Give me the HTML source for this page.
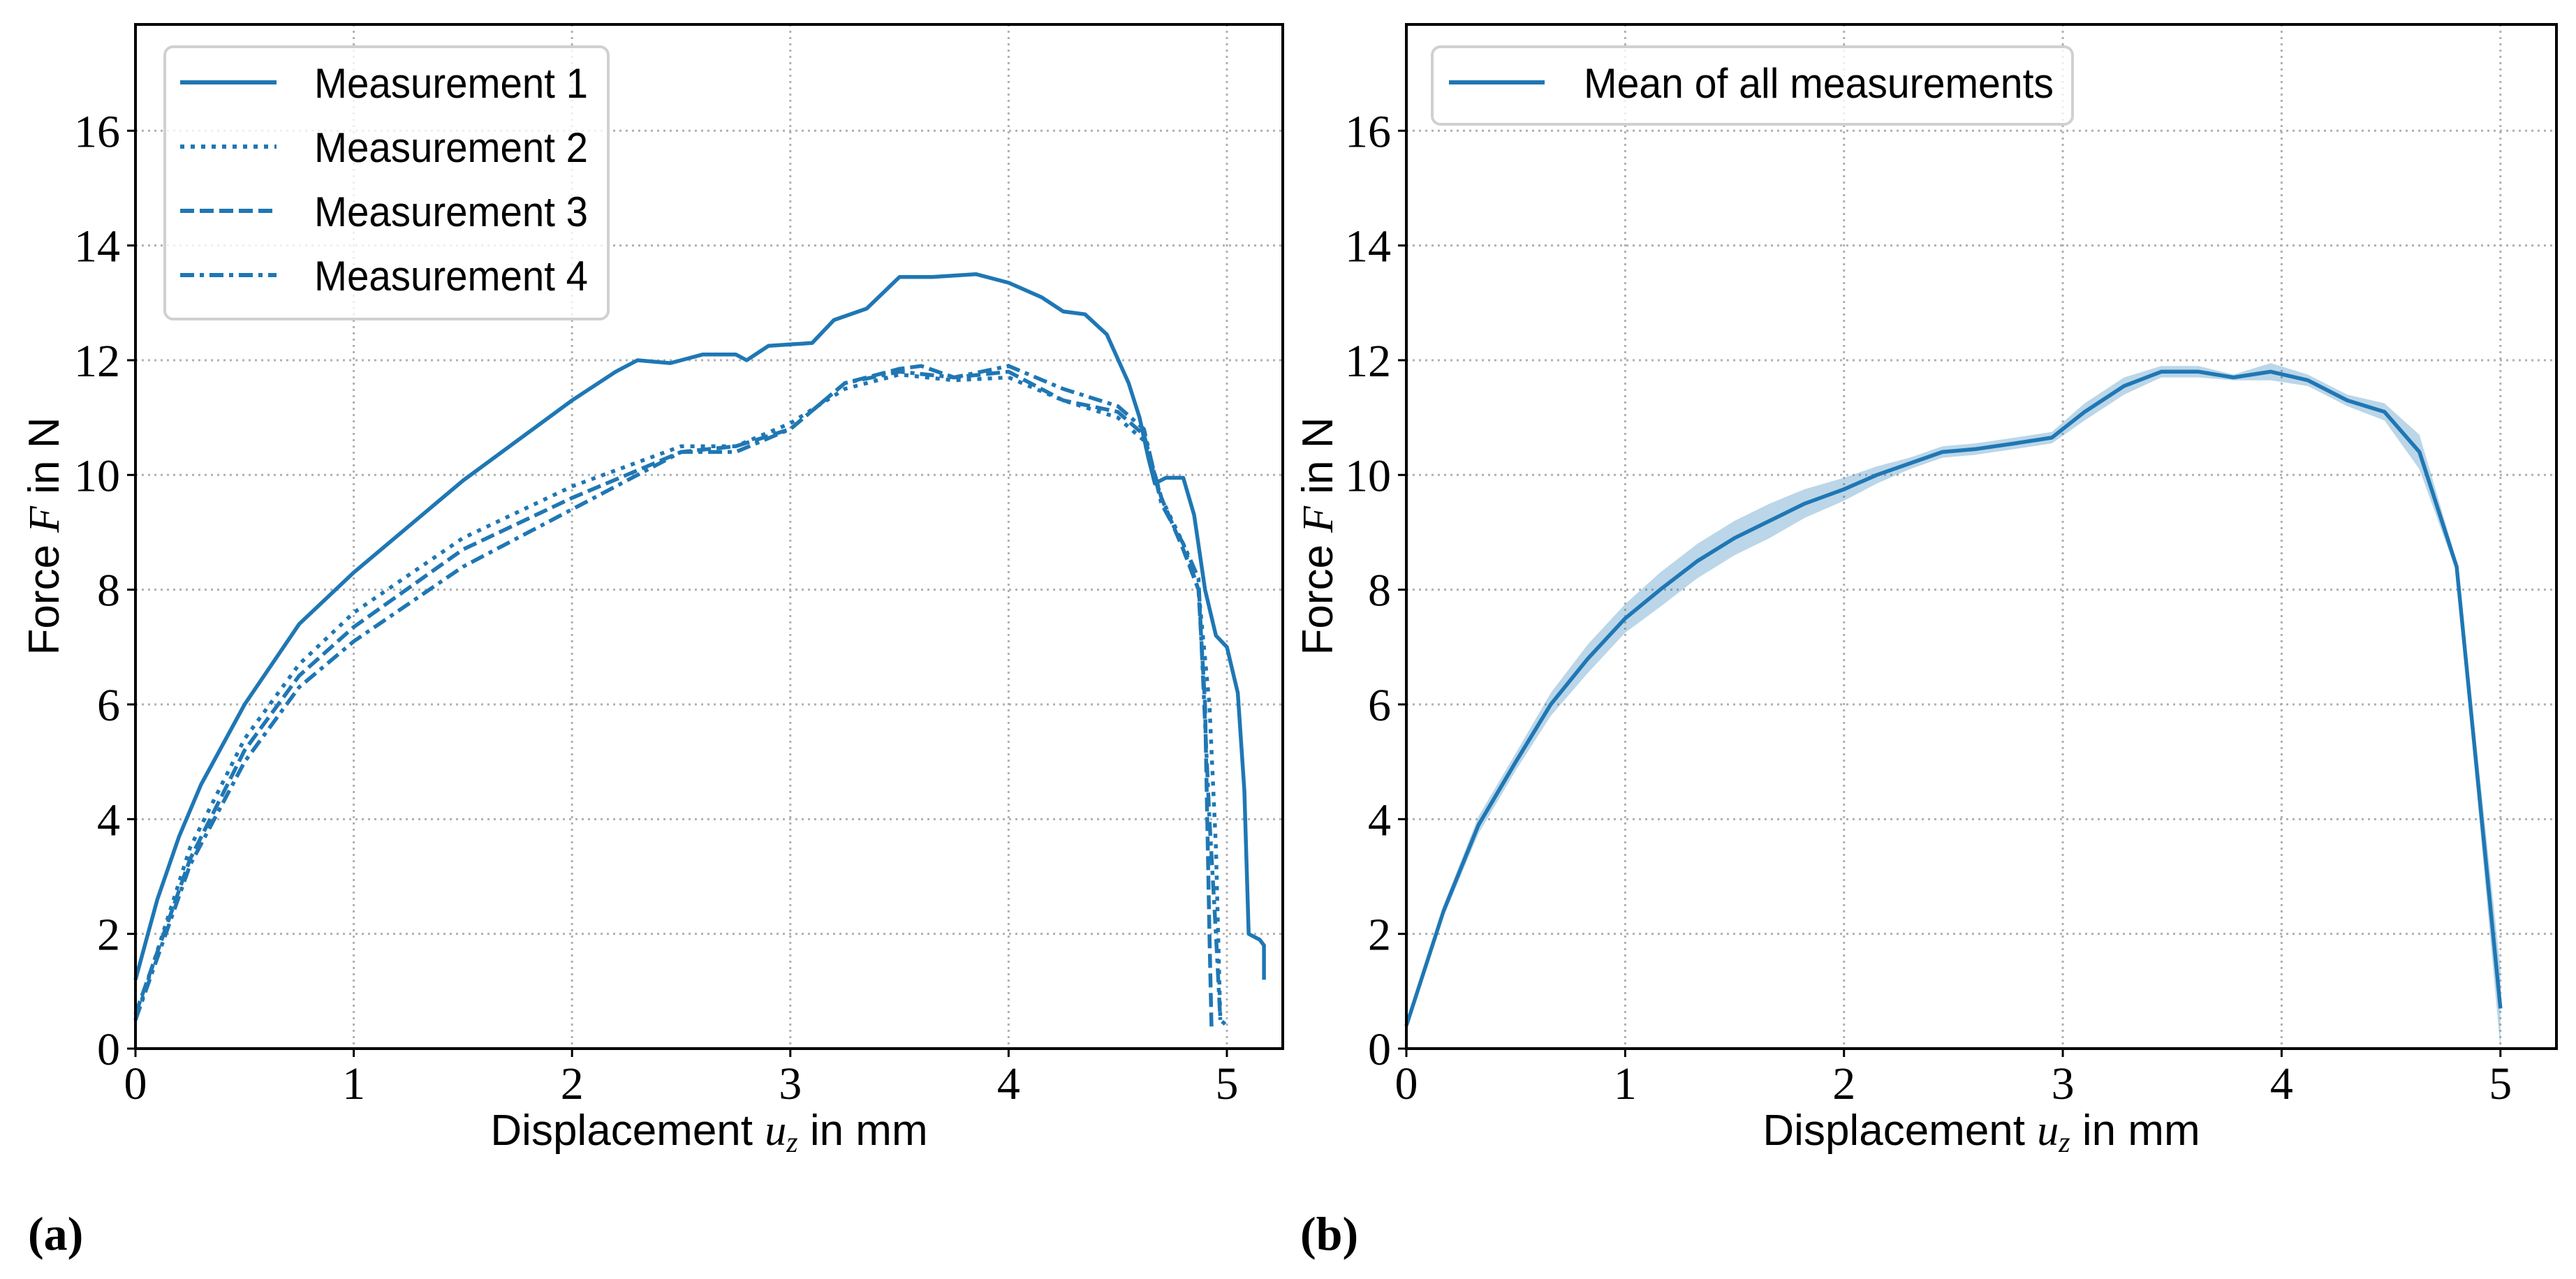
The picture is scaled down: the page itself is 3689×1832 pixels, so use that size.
<!DOCTYPE html>
<html><head><meta charset="utf-8"><style>
html,body{margin:0;padding:0;background:#fff;}
svg{display:block;}
.tick{font-family:"Liberation Serif",serif;font-size:66px;fill:#000;}
.lab{font-family:"Liberation Sans",sans-serif;font-size:62px;fill:#000;}
.leg{font-family:"Liberation Sans",sans-serif;font-size:60px;fill:#000;}
</style></head><body>
<svg id="fig" width="3689" height="1832" viewBox="0 0 3689 1832" xmlns="http://www.w3.org/2000/svg"></svg>
<script>
// ---- data ----
const m1x=[0,0.05,0.1,0.2,0.3,0.5,0.75,1,1.25,1.5,1.75,2,2.2,2.3,2.45,2.6,2.75,2.8,2.9,3.1,3.2,3.35,3.5,3.65,3.85,4.0,4.15,4.25,4.35,4.45,4.55,4.6,4.64,4.67,4.72,4.8,4.85,4.9,4.95,5.0,5.05,5.08,5.1,5.15,5.17,5.17];
const m1y=[1.2,1.9,2.6,3.7,4.6,6.0,7.4,8.3,9.1,9.9,10.6,11.3,11.8,12.0,11.95,12.1,12.1,12.0,12.25,12.3,12.7,12.9,13.45,13.45,13.5,13.35,13.1,12.85,12.8,12.45,11.6,11.0,10.3,9.85,9.95,9.95,9.3,8.0,7.2,7.0,6.2,4.5,2.0,1.9,1.8,1.2];
const m2x=[0,0.25,0.5,0.75,1,1.5,2,2.5,2.75,3,3.25,3.5,3.75,4,4.25,4.5,4.62,4.7,4.8,4.87,4.92,4.95,4.97,5.0];
const m2y=[0.5,3.5,5.4,6.7,7.6,8.9,9.8,10.5,10.5,10.9,11.5,11.75,11.65,11.7,11.3,11.0,10.6,9.6,8.8,8.0,6.0,3.5,0.5,0.4];
const m3x=[0,0.25,0.5,0.75,1,1.5,2,2.5,2.75,3,3.25,3.5,3.6,3.75,4,4.25,4.5,4.62,4.7,4.8,4.87,4.9,4.92,4.93];
const m3y=[0.6,3.3,5.2,6.5,7.35,8.7,9.6,10.4,10.5,10.8,11.6,11.85,11.9,11.7,11.8,11.3,11.1,10.7,9.6,8.7,8.0,6.0,2.0,0.3];
const m4x=[0,0.25,0.5,0.75,1,1.5,2,2.5,2.75,3,3.25,3.5,3.75,4,4.25,4.5,4.62,4.7,4.8,4.87,4.92,4.95,4.97];
const m4y=[0.5,3.2,5.0,6.3,7.1,8.4,9.4,10.4,10.4,10.8,11.6,11.8,11.7,11.9,11.5,11.2,10.8,9.5,8.8,8.2,4.0,2.0,0.5];
const meanX=[0,0.17,0.33,0.5,0.66,0.83,1,1.16,1.33,1.5,1.66,1.82,2,2.15,2.3,2.45,2.6,2.78,2.95,3.1,3.28,3.45,3.62,3.78,3.95,4.12,4.3,4.47,4.63,4.8,5.0];
const meanY=[0.4,2.4,3.9,5.0,6.0,6.8,7.5,8.0,8.5,8.9,9.2,9.5,9.75,10.0,10.2,10.4,10.45,10.55,10.65,11.1,11.55,11.8,11.8,11.7,11.8,11.65,11.3,11.1,10.4,8.4,0.7];
const meanSpread=[0.05,0.1,0.15,0.15,0.2,0.25,0.25,0.3,0.3,0.3,0.3,0.25,0.2,0.15,0.1,0.1,0.1,0.1,0.1,0.15,0.15,0.1,0.1,0.05,0.15,0.1,0.1,0.15,0.3,0.1,0.7];
const xTicks=[0,1,2,3,4,5];
const yTicks=[0,2,4,6,8,10,12,14,16];
const C='#1f77b4', NS='http://www.w3.org/2000/svg';
const svg=document.getElementById('fig');
function el(t,a,p){const e=document.createElementNS(NS,t);for(const k in a)e.setAttribute(k,a[k]);(p||svg).appendChild(e);return e;}
const Y0=1502, YT=35;
function panel(L,R,name){
  const g=el('g',{});
  
  
  const xs=v=>L+(v/5.256)*(R-L), ys=v=>Y0-v*82.17;
  xTicks.forEach(t=>{const l=el('line',{x1:xs(t),x2:xs(t),y1:YT,y2:Y0,stroke:'#b0b0b0','stroke-width':3,'stroke-dasharray':'3,6'},g);
    });
  yTicks.forEach(t=>{const l=el('line',{x1:L,x2:R,y1:ys(t),y2:ys(t),stroke:'#b0b0b0','stroke-width':3,'stroke-dasharray':'3,6'},g);
    });
  xTicks.forEach(t=>{el('line',{x1:xs(t),x2:xs(t),y1:Y0,y2:Y0+12,stroke:'#000','stroke-width':3},g);
    const tx=el('text',{x:xs(t),y:1574,'text-anchor':'middle',class:'tick'},g);tx.textContent=t;
    });
  yTicks.forEach(t=>{el('line',{x1:L-12,x2:L,y1:ys(t),y2:ys(t),stroke:'#000','stroke-width':3},g);
    const tx=el('text',{x:L-22,y:ys(t)+23,'text-anchor':'end',class:'tick'},g);tx.textContent=t;
    });
  return {g,xs,ys};
}
function path(xa,ya,xs,ys){return xa.map((x,i)=>(i?'L':'M')+xs(x).toFixed(1)+','+ys(ya[i]).toFixed(1)).join('');}
function frame(g,L,R){const f=el('rect',{x:L,y:YT,width:R-L,height:Y0-YT,fill:'none',stroke:'#000','stroke-width':4},g);
  }
function labels(g,L,R,cx){
  const xl=el('text',{x:(L+R)/2,y:1640,'text-anchor':'middle',class:'lab'},g);
  xl.innerHTML='Displacement <tspan font-family="Liberation Serif" font-style="italic">u</tspan><tspan font-family="Liberation Serif" font-style="italic" font-size="42" dy="10">z</tspan><tspan dy="-10"> in mm</tspan>';
  
  const yl=el('text',{x:0,y:0,'text-anchor':'middle',class:'lab',transform:`translate(${cx},768) rotate(-90)`},g);
  yl.innerHTML='Force <tspan font-family="Liberation Serif" font-style="italic">F</tspan> in N';
  
}
const A=panel(194,1837,'panel-a');
const dashes=[null,'6,9','20,8','20,8,6,8'];
const sets=[[m1x,m1y],[m2x,m2y],[m3x,m3y],[m4x,m4y]];
sets.forEach((s,i)=>{const p=el('path',{d:path(s[0],s[1],A.xs,A.ys),fill:'none',stroke:C,'stroke-width':5.5,'stroke-linejoin':'round'},A.g);
  if(dashes[i])p.setAttribute('stroke-dasharray',dashes[i]);
  });
frame(A.g,194,1837);labels(A.g,194,1837,84);
const lg=el('g',{},A.g);

el('rect',{x:236,y:67,width:635,height:390,rx:12,fill:'rgba(255,255,255,0.8)',stroke:'#d0d0d0','stroke-width':4},lg);
[118,210,302,394].forEach((yy,i)=>{const e=el('g',{},lg);
  
  const l=el('line',{x1:258,x2:396,y1:yy,y2:yy,stroke:C,'stroke-width':6},e);if(dashes[i])l.setAttribute('stroke-dasharray',dashes[i]);
  const t=el('text',{x:450,y:yy+22,class:'leg',textLength:392,lengthAdjust:'spacingAndGlyphs'},e);t.textContent='Measurement '+(i+1);});
const B=panel(2014,3661,'panel-b');
const up=meanX.map((x,i)=>B.xs(x).toFixed(1)+','+B.ys(meanY[i]+meanSpread[i]).toFixed(1));
const lo=meanX.map((x,i)=>B.xs(x).toFixed(1)+','+B.ys(Math.max(0,meanY[i]-meanSpread[i])).toFixed(1)).reverse();
const band=el('polygon',{points:up.concat(lo).join(' '),fill:C,'fill-opacity':0.3,stroke:'none'},B.g);

const mp=el('path',{d:path(meanX,meanY,B.xs,B.ys),fill:'none',stroke:C,'stroke-width':5.5,'stroke-linejoin':'round'},B.g);

frame(B.g,2014,3661);labels(B.g,2014,3661,1908);
const lg2=el('g',{},B.g);

el('rect',{x:2051,y:67,width:917,height:111,rx:12,fill:'rgba(255,255,255,0.8)',stroke:'#d0d0d0','stroke-width':4},lg2);
el('line',{x1:2075,x2:2212,y1:118,y2:118,stroke:C,'stroke-width':6},lg2);
const lt=el('text',{x:2268,y:140,class:'leg',textLength:673,lengthAdjust:'spacingAndGlyphs'},lg2);lt.textContent='Mean of all measurements';
const sa=el('text',{x:40,y:1790,'font-family':'Liberation Serif','font-weight':'bold','font-size':'68'});sa.textContent='(a)';

const sb=el('text',{x:1862,y:1790,'font-family':'Liberation Serif','font-weight':'bold','font-size':'68'});sb.textContent='(b)';

</script>
</body></html>
